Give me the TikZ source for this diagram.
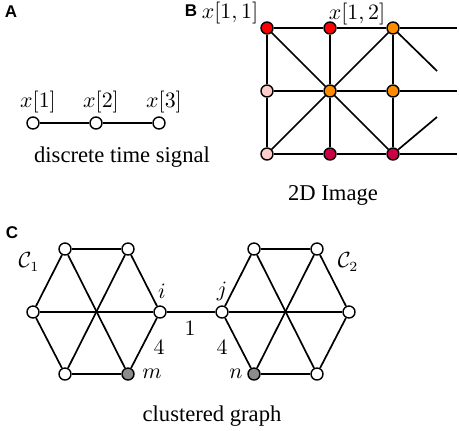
\documentclass[tikz,border=0pt]{standalone}
\usepackage{fontspec}
\setmainfont{Liberation Serif}
\newfontfamily\panelfont{Liberation Sans}
\usepackage{amsmath,amssymb}

\definecolor{pxred}{RGB}{255,0,0}
\definecolor{pxorange}{RGB}{255,140,0}
\definecolor{pxpink}{RGB}{255,204,204}
\definecolor{pxcrimson}{RGB}{204,0,70}
\definecolor{pxgray}{RGB}{140,140,140}

\tikzset{
  vtx/.style={circle,draw,line width=0.7pt,fill=white,inner sep=0pt,minimum size=6pt},
  lbl/.style={inner sep=0pt,font=\fontsize{10.5}{12}\selectfont},
  captext/.style={inner sep=0pt,font=\fontsize{11.3}{13}\selectfont},
  panel/.style={inner sep=0pt,font=\panelfont\bfseries\fontsize{8.5}{9}\selectfont},
  link/.style={line width=0.85pt}
}

\begin{document}
\begin{tikzpicture}[x=0.5pt,y=-0.5pt]
    \useasboundingbox (0,0) rectangle (459,430);
    % Panel letters
    \node (pa) at (11,12) [panel] {A};
    \node (pb) at (191,11) [panel] {B};
    \node (pc) at (12,233) [panel] {C};

    % A: discrete time signal
    \node (x1) at (33,123) [vtx] {};
    \node (x2) at (96,123) [vtx] {};
    \node (x3) at (159,123) [vtx] {};
    \node (lx1) at (38,102) [lbl] {$x[1]$};
    \node (lx2) at (101,102) [lbl] {$x[2]$};
    \node (lx3) at (164,102) [lbl] {$x[3]$};
    \path[link] (x1) edge (x2);
    \path[link] (x2) edge (x3);
    \node (capa) at (122,157) [captext] {discrete time signal};

    % B: 2D image
    \coordinate (e1) at (457,28);
    \coordinate (e2) at (457,91);
    \coordinate (e3) at (457,154);
    \coordinate (s1) at (437,71);
    \coordinate (s2) at (437,117);
    \node (b11) at (267,28) [vtx,fill=pxred] {};
    \node (b12) at (330,28) [vtx,fill=pxred] {};
    \node (b13) at (393,28) [vtx,fill=pxorange] {};
    \node (b21) at (267,91) [vtx,fill=pxpink] {};
    \node (b22) at (330,91) [vtx,fill=pxorange] {};
    \node (b23) at (393,91) [vtx,fill=pxorange] {};
    \node (b31) at (267,154) [vtx,fill=pxpink] {};
    \node (b32) at (330,154) [vtx,fill=pxcrimson] {};
    \node (b33) at (393,154) [vtx,fill=pxcrimson] {};
    \node (lb11) at (230,13) [lbl] {$x[1,1]$};
    \node (lb12) at (357,14) [lbl] {$x[1,2]$};
    \path[link] (b11) edge (b12);
    \path[link] (b12) edge (b13);
    \path[link] (b13) edge (e1);
    \path[link] (b21) edge (b22);
    \path[link] (b22) edge (b23);
    \path[link] (b23) edge (e2);
    \path[link] (b31) edge (b32);
    \path[link] (b32) edge (b33);
    \path[link] (b33) edge (e3);
    \path[link] (b11) edge (b21);
    \path[link] (b21) edge (b31);
    \path[link] (b12) edge (b22);
    \path[link] (b22) edge (b32);
    \path[link] (b13) edge (b23);
    \path[link] (b23) edge (b33);
    \path[link] (b11) edge (b22);
    \path[link] (b22) edge (b33);
    \path[link] (b31) edge (b22);
    \path[link] (b22) edge (b13);
    \path[link] (b13) edge (s1);
    \path[link] (b33) edge (s2);
    \node (capb) at (333,195) [captext] {2D Image};

    % C: clustered graph
    \node (u1) at (65,249) [vtx] {};
    \node (u2) at (128,249) [vtx] {};
    \node (u3) at (33,312) [vtx] {};
    \node (i) at (160,312) [vtx] {};
    \node (u5) at (65,374) [vtx] {};
    \node (m) at (128,374) [vtx,fill=pxgray] {};
    \node (j) at (222,312) [vtx] {};
    \node (v2) at (254,249) [vtx] {};
    \node (v3) at (317,249) [vtx] {};
    \node (v4) at (349,312) [vtx] {};
    \node (n) at (254,374) [vtx,fill=pxgray] {};
    \node (v6) at (317,374) [vtx] {};
    % Edges of cluster 1
    \path[link] (u1) edge (u2);
    \path[link] (u2) edge (i);
    \path[link] (i) edge (m);
    \path[link] (m) edge (u5);
    \path[link] (u5) edge (u3);
    \path[link] (u3) edge (u1);
    \path[link] (u1) edge (m);
    \path[link] (u2) edge (u5);
    \path[link] (u3) edge (i);
    % Edges of cluster 2
    \path[link] (v2) edge (v3);
    \path[link] (v3) edge (v4);
    \path[link] (v4) edge (v6);
    \path[link] (v6) edge (n);
    \path[link] (n) edge (j);
    \path[link] (j) edge (v2);
    \path[link] (v2) edge (v6);
    \path[link] (v3) edge (n);
    \path[link] (j) edge (v4);
    % Bridge
    \path[link] (i) edge (j);
    % Labels and weights
    \node (li) at (162,291) [lbl] {$i$};
    \node (lj) at (222,291) [lbl] {$j$};
    \node (lm) at (152,374) [lbl] {$m$};
    \node (ln) at (236,374) [lbl] {$n$};
    \node (w1) at (190,328) [lbl] {$1$};
    \node (w4a) at (159,347) [lbl] {$4$};
    \node (w4b) at (222,347) [lbl] {$4$};
    \node (lc1) at (29,262) [lbl] {$\mathcal{C}_1$};
    \node (lc2) at (348,262) [lbl] {$\mathcal{C}_2$};
    \node (capc) at (212,416) [captext] {clustered graph};
\end{tikzpicture}
\end{document}
